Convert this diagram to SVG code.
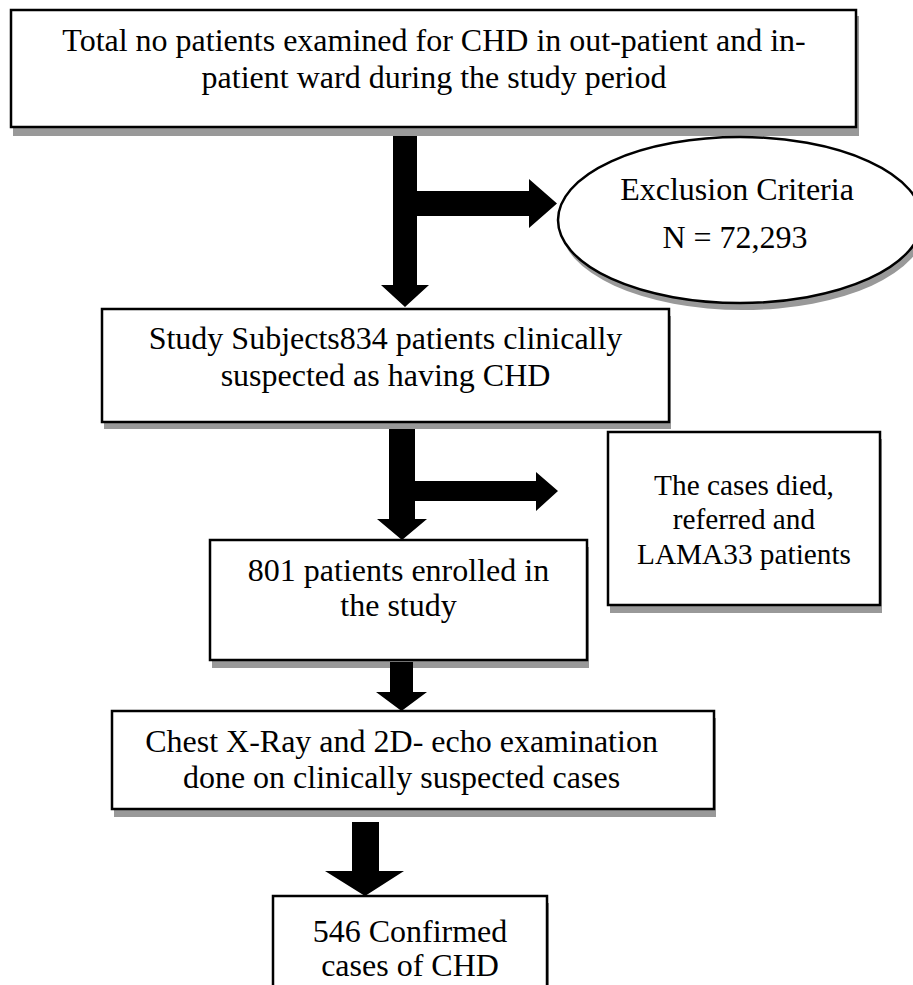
<svg xmlns="http://www.w3.org/2000/svg" width="913" height="985" viewBox="0 0 913 985">
<style>
.box{fill:#ffffff;stroke:#000000;stroke-width:2.5}
.shadow{fill:#999999;stroke:none}
.t{font-family:"Liberation Serif","Times New Roman",serif;font-size:32px;fill:#000000;text-anchor:middle}
.ts{font-size:29.3px}
.arrow{fill:#000000;stroke:none}
</style>
<rect x="0" y="0" width="913" height="985" fill="#ffffff"/>
<g id="node-total">
<rect class="shadow" x="13" y="16" width="846" height="120"/>
<rect class="box" x="11" y="10" width="845" height="117"/>
<text class="t" x="434" y="51">Total no patients examined for CHD in out-patient and in-</text>
<text class="t" x="434" y="88">patient ward during the study period</text>
</g>
<g id="node-exclusion">
<ellipse class="shadow" cx="743" cy="227" rx="182" ry="83"/>
<ellipse class="box" cx="740" cy="220" rx="182" ry="83"/>
<text class="t" x="737" y="200">Exclusion Criteria</text>
<text class="t" x="735" y="248">N = 72,293</text>
</g>
<g id="node-subjects">
<rect class="shadow" x="104" y="316" width="567" height="113"/>
<rect class="box" x="102" y="309" width="567" height="113"/>
<text class="t" x="385.5" y="349">Study Subjects834 patients clinically</text>
<text class="t" x="385.5" y="386">suspected as having CHD</text>
</g>
<g id="node-died">
<rect class="shadow" x="610" y="439" width="272" height="174"/>
<rect class="box" x="608" y="432" width="272" height="173"/>
<text class="t ts" x="744" y="495">The cases died,</text>
<text class="t ts" x="744" y="529">referred and</text>
<text class="t ts" x="744" y="564">LAMA33 patients</text>
</g>
<g id="node-enrolled">
<rect class="shadow" x="212" y="547" width="377" height="121"/>
<rect class="box" x="210" y="540" width="377" height="120"/>
<text class="t" x="398.5" y="580.5">801 patients enrolled in</text>
<text class="t" x="398.5" y="616">the study</text>
</g>
<g id="node-xray">
<rect class="shadow" x="114" y="718" width="602" height="99"/>
<rect class="box" x="112" y="711" width="602" height="98"/>
<text class="t" x="401.5" y="752">Chest X-Ray and 2D- echo examination</text>
<text class="t" x="401.5" y="788">done on clinically suspected cases</text>
</g>
<g id="node-confirmed">
<rect class="shadow" x="275" y="903" width="274" height="120"/>
<rect class="box" x="273" y="896" width="274" height="120"/>
<text class="t" x="410" y="941.5">546 Confirmed</text>
<text class="t" x="410" y="976">cases of CHD</text>
</g>
<g id="connectors">
<polygon class="arrow" points="393,136 417,136 417,191 529,191 529,179 557,203.5 529,228 529,216 417,216 417,285 429,285 405,307 381,285 393,285"/>
<polygon class="arrow" points="389,429 415,429 415,481 536,481 536,472 558,491 536,511 536,501 415,501 415,519 427,519 402,540 377,519 389,519"/>
<polygon class="arrow" points="390,662 413,662 413,692 427,692 401.5,711 376,692 390,692"/>
<polygon class="arrow" points="352,822 379,822 379,871 404,871 365,896 325,871 352,871"/>
</g>
</svg>
